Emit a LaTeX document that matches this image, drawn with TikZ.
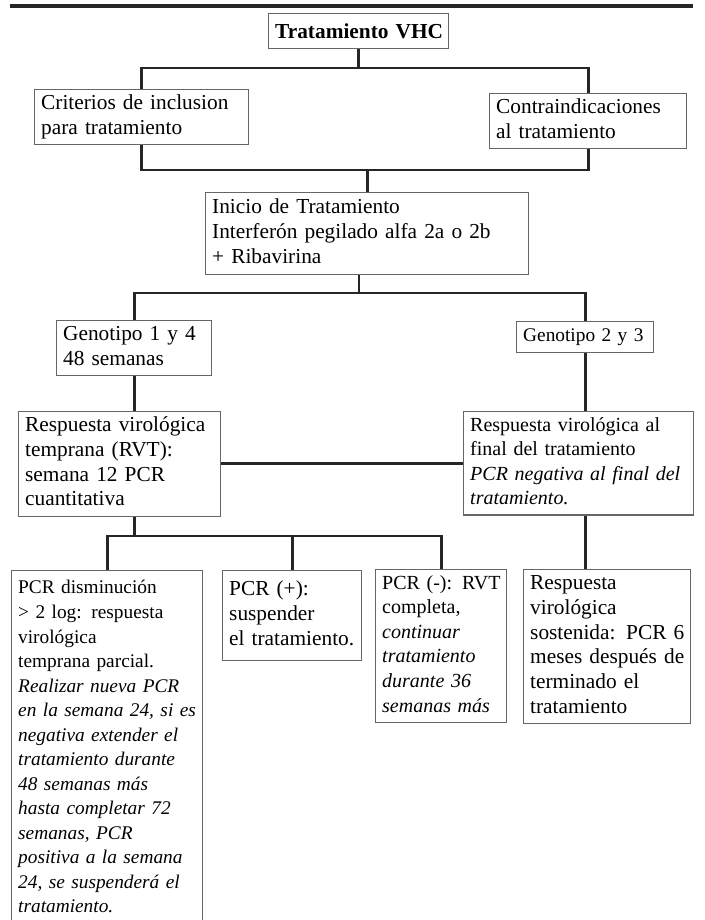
\documentclass[tikz,border=0pt]{standalone}
\usepackage{fontspec}
\setmainfont{Liberation Serif}
\usepackage{tikz}
\newcommand{\filas}[1]{\begin{tabular}{@{}l@{}}#1\end{tabular}}
\tikzset{
  caja/.style 2 args={draw=black!60, line width=0.8pt, fill=white, anchor=north west,
    align=left, inner xsep=5pt, inner ysep=2pt,
    minimum width=#1*0.75pt, minimum height=#2*0.75pt,
    /utils/exec={\pgfmathsetlengthmacro\cajaw{#1*0.75pt-10pt}}, text width=\cajaw,
    font=\fontsize{16}{18.6}\selectfont},
  chica/.style={font=\fontsize{#1}{18.4}\selectfont, inner xsep=3pt},
  enlace/.style={line width=2.2pt, draw=black!85},
  regla/.style={line width=2.4pt, draw=black!85},
}

\begin{document}
\begin{tikzpicture}[x=0.75pt, y=-0.75pt]
\useasboundingbox (0,0) rectangle (705,920);
\clip (0,0) rectangle (705,920);
\draw[regla] (10,6) -- (693,6);
% cajas
\node[caja={180}{35}, align=center, inner xsep=2pt] (titulo) at (268,13) {\mbox{\textbf{Tratamiento VHC}}};
\node[caja={214}{53}] (crit) at (34,89) {\filas{Criterios de inclusion\\para tratamiento}};
\node[caja={197}{52}] (contra) at (489,93) {\filas{Contraindicaciones\\al tratamiento}};
\node[caja={323}{82}] (inicio) at (205,192) {\filas{Inicio de Tratamiento\\Interferón pegilado alfa 2a o 2b\\+ Ribavirina}};
\node[caja={155}{50}] (geno1) at (56,320) {\filas{Genotipo 1 y 4\\48 semanas}};
\node[caja={137}{31}, chica=14.5, inner xsep=2.5pt] (geno2) at (516,321) {\filas{Genotipo 2 y 3}};
\node[caja={202}{102}] (rvt) at (18,411) {\filas{Respuesta virológica\\temprana (RVT):\\semana 12 PCR\\cuantitativa}};
\node[caja={230}{100}, chica=15] (rvf) at (463,411) {\filas{Respuesta virológica al\\final del tratamiento\\\textit{PCR negativa al final del}\\\textit{tratamiento.}}};
\node[caja={191}{356}, chica=14.5] (b1) at (11,570) {\filas{PCR disminución\\> 2 log: respuesta\\virológica\\temprana parcial.\\\textit{Realizar nueva PCR}\\\textit{en la semana 24, si es}\\\textit{negativa extender el}\\\textit{tratamiento durante}\\\textit{48 semanas más}\\\textit{hasta completar 72}\\\textit{semanas, PCR}\\\textit{positiva a la semana}\\\textit{24, se suspenderá el}\\\textit{tratamiento.}}};
\node[caja={139}{90}, inner xsep=4pt] (b2) at (222,570) {\filas{PCR (+):\\suspender\\el tratamiento.}};
\node[caja={131}{148}, chica=15] (b3) at (375,569) {\filas{PCR (-): RVT\\completa,\\\textit{continuar}\\\textit{tratamiento}\\\textit{durante 36}\\\textit{semanas más}}};
\node[caja={167}{154}, inner xsep=3pt] (b4) at (523,569) {\filas{Respuesta\\virológica\\sostenida: PCR 6\\meses después de\\terminado el\\tratamiento}};
% enlaces
\coordinate (n1) at (titulo.south |- 0,68);
\draw[enlace] (titulo.south) -- (n1);
\draw[enlace] (crit.north) |- (n1) -| (contra.north);
\coordinate (n2) at (inicio.north |- 0,170);
\draw[enlace] (crit.south) |- (n2) -| (contra.south);
\draw[enlace] (n2) -- (inicio.north);
\coordinate (n3) at (359,293);
\draw[enlace] (inicio.south -| n3) -- (n3);
\draw[enlace] (geno1.north) |- (n3) -| (geno2.north);
\draw[enlace] (geno1.south) -- (geno1.south |- rvt.north);
\draw[enlace] (geno2.south) -- (geno2.south |- rvf.north);
\draw[enlace] (rvt.east) -- (rvt.east -| rvf.west);
\coordinate (n4) at (geno1.south |- 0,536);
\draw[enlace] (n4 |- rvt.south) -- (n4);
\draw[enlace] (b1.north) |- (n4) -| (b3.north);
\draw[enlace] (b2.north) -- (b2.north |- n4);
\draw[enlace] (geno2.south |- rvf.south) -- (geno2.south |- b4.north);
\end{tikzpicture}
\end{document}
